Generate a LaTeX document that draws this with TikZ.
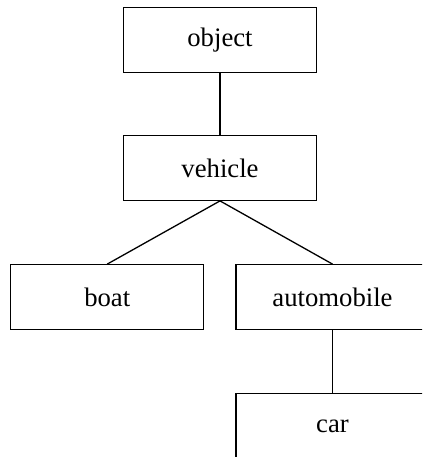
\documentclass[tikz,border=0pt]{standalone}
\usepackage{fontspec}
\setmainfont{Liberation Serif}
\begin{document}
\begin{tikzpicture}[x=1bp,y=-1bp,
  box/.style={draw=black,line width=1.3bp,minimum width=193bp,minimum height=64.5bp,inner sep=0pt,font=\fontsize{26.7bp}{30bp}\selectfont},
  link/.style={draw=black,line width=1.3bp}]
\clip (0,0) rectangle (422,457);
\node[box] (object) at (220,40) {object};
\node[box] (vehicle) at (220,168) {vehicle};
\node[box] (boat) at (107.25,297) {boat};
\node[box] (automobile) at (332.5,297) {automobile};
\node[box] (car) at (332.5,426) {car};
\draw[link] (object.south) -- (vehicle.north);
\draw[link] (vehicle.south) -- (boat.north);
\draw[link] (vehicle.south) -- (automobile.north);
\draw[link] (automobile.south) -- (car.north);
\end{tikzpicture}
\end{document}
